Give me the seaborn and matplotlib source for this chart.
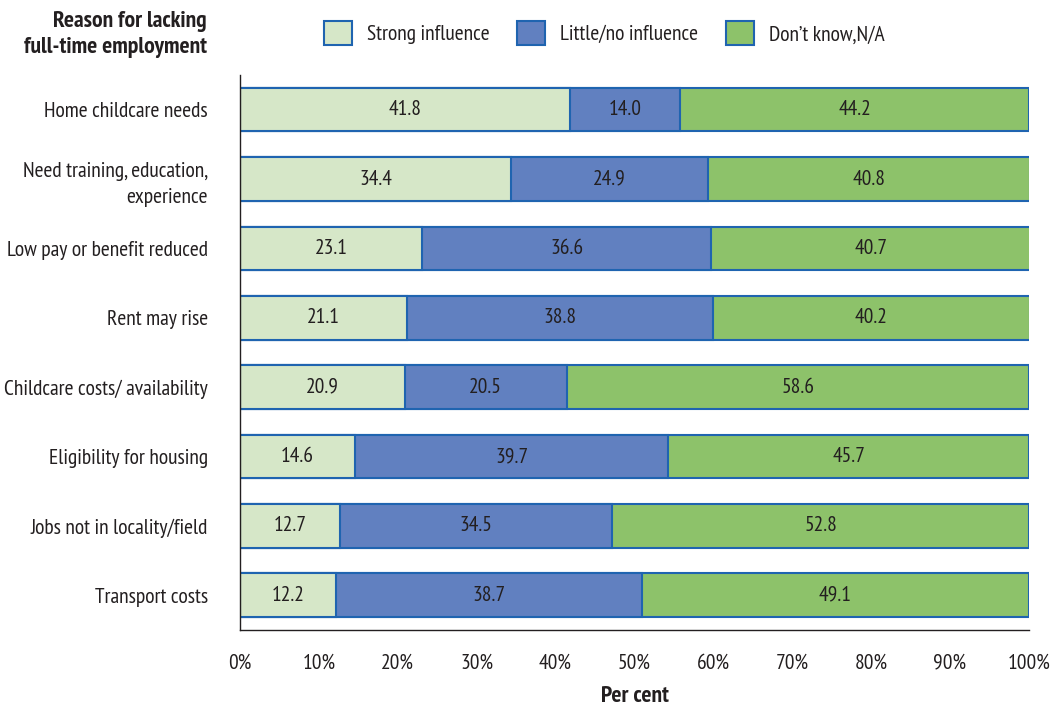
import numpy as np
import pandas as pd
import matplotlib
matplotlib.use("Agg")
import matplotlib.pyplot as plt
import seaborn as sns
from matplotlib.patches import Patch

reasons = ["Home childcare needs", "Need training, education,\nexperience",
           "Low pay or benefit reduced", "Rent may rise",
           "Childcare costs/ availability", "Eligibility for housing",
           "Jobs not in locality/field", "Transport costs"]
strong = [41.8, 34.4, 23.1, 21.1, 20.9, 14.6, 12.7, 12.2]
little = [14.0, 24.9, 36.6, 38.8, 20.5, 39.7, 34.5, 38.7]
dontknow = [44.2, 40.8, 40.7, 40.2, 58.6, 45.7, 52.8, 49.1]
series = ["Strong influence", "Little/no influence", "Don\u2019t know,N/A"]
colors = ["#d6e7c8", "#6180c0", "#8dc26a"]
edge = "#1f64b0"
ink = "#231f20"

sns.set_style("white")
plt.rcParams["font.family"] = ["PT Sans Narrow", "DejaVu Sans"]

df = pd.DataFrame({"reason": reasons, "strong": strong, "little": little, "dontknow": dontknow})
df["c1"] = df["strong"]
df["c2"] = df["strong"] + df["little"]
df["c3"] = df["c2"] + df["dontknow"]

fig = plt.figure(figsize=(10.51, 7.07), dpi=100)
ax = fig.add_axes([0.2284, 0.109, 0.7506, 0.785])

# stacked look: draw cumulative totals from the widest down
for col, c in zip(["c3", "c2", "c1"], colors[::-1]):
    sns.barplot(data=df, x=col, y="reason", orient="h", color=c, width=0.63,
                edgecolor=edge, linewidth=1.5, saturation=1, ax=ax)

for i, row in df.iterrows():
    for lo, val in [(0, row["strong"]), (row["c1"], row["little"]), (row["c2"], row["dontknow"])]:
        ax.text(lo + val / 2, i, f"{val:.1f}", ha="center", va="center",
                fontsize=15.5, color=ink)

ax.set_xlim(0, 100)
ax.set_ylim(7.5, -0.5)
ax.set_xticks(np.arange(0, 101, 10))
ax.set_xticklabels([f"{t}%" for t in range(0, 101, 10)])
ax.tick_params(axis="x", length=5, width=1, color=ink, labelsize=15.5, pad=12,
               labelcolor=ink)
ax.tick_params(axis="y", length=0, labelsize=15.5, pad=23, labelcolor=ink)
for lab in ax.get_yticklabels():
    lab.set_linespacing(1.45)
for s in ["top", "right"]:
    ax.spines[s].set_visible(False)
for s in ["left", "bottom"]:
    ax.spines[s].set_color(ink)
    ax.spines[s].set_linewidth(1)
ax.set_xlabel("Per cent", fontsize=17, fontweight="bold", color=ink, labelpad=10)
ax.set_ylabel("")
ax.grid(False)

fig.text(0.197, 0.951, "Reason for lacking\nfull-time employment", ha="right", va="center",
         fontsize=17, fontweight="bold", color=ink, linespacing=1.3)

handles = [Patch(facecolor=c, edgecolor=edge, linewidth=1.5) for c in colors]
fig.legend(handles, series, loc="center", bbox_to_anchor=(0.575, 0.953), ncol=3,
           frameon=False, fontsize=15.5, handlelength=1.3, handleheight=1.3,
           columnspacing=1.3, handletextpad=0.7, labelcolor=ink)

fig.savefig("out.png", dpi=100)
